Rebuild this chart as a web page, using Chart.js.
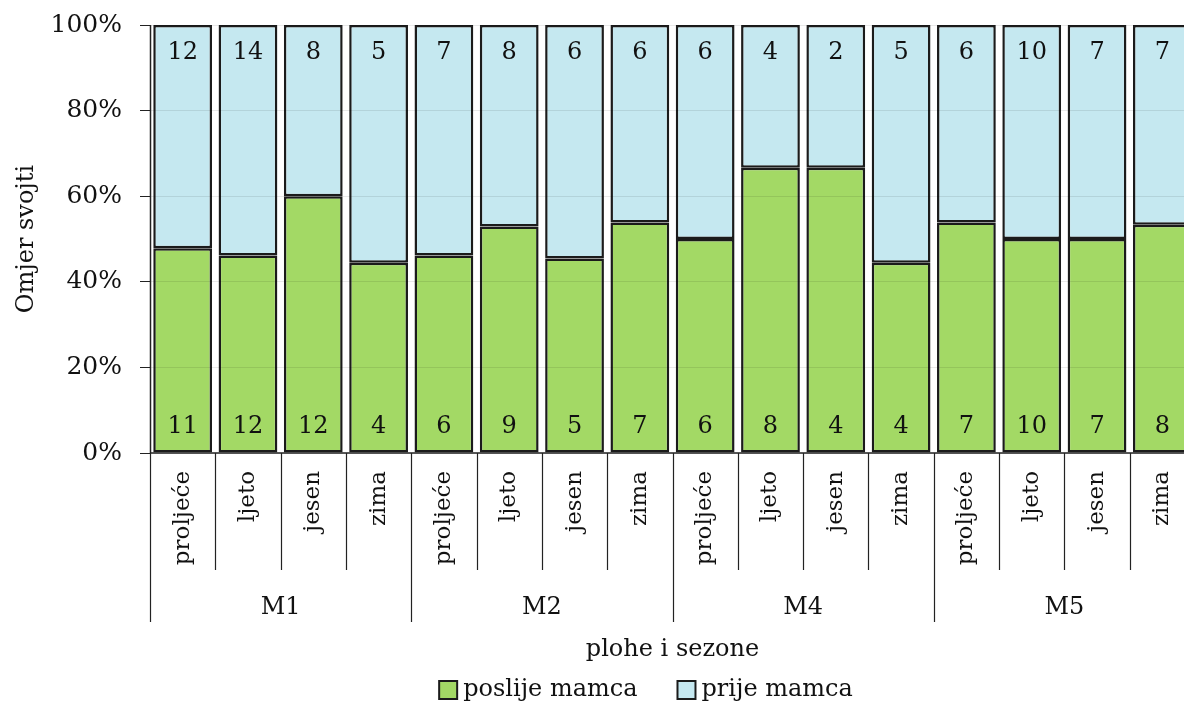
<!DOCTYPE html>
<html>
<head>
<meta charset="utf-8">
<script src="https://cdn.jsdelivr.net/npm/chart.js@4/dist/chart.umd.min.js"></script>
<style>
html,body{margin:0;padding:0;background:#fff;overflow:hidden;width:1184px;height:704px;}
#wrap{position:absolute;left:0;top:0;width:1196px;height:704px;}
</style>
</head>
<body>
<div id="wrap"><canvas id="c" width="1196" height="704"></canvas></div>
<script>
const seasons = ['proljeće','ljeto','jesen','zima','proljeće','ljeto','jesen','zima','proljeće','ljeto','jesen','zima','proljeće','ljeto','jesen','zima'];
const groups = ['M1','M2','M4','M5'];
const poslijeMamca = [11,12,12,4, 6,9,5,7, 6,8,4,4, 7,10,7,8];
const prijeMamca   = [12,14,8,5, 7,8,6,6, 6,4,2,5, 6,10,7,7];
const yTicks = [0,20,40,60,80,100];

const FONT = 'DejaVu Serif';
const GREEN = '#A3D965', BLUE = '#C5E8F0', EDGE = '#1b1b1b';
const totals = poslijeMamca.map((v,i)=>v+prijeMamca[i]);
const pctPoslije = poslijeMamca.map((v,i)=>v/totals[i]*100);
const pctPrije = prijeMamca.map((v,i)=>v/totals[i]*100);

const overlay = {
  id:'overlay',
  afterDatasetsDraw(chart){
    const ctx = chart.ctx;
    const x = chart.scales.x, y = chart.scales.y;
    ctx.save();
    ctx.font = '24px "'+FONT+'"';
    ctx.fillStyle = '#111';
    ctx.textAlign = 'center';
    ctx.textBaseline = 'middle';
    for(let i=0;i<seasons.length;i++){
      const cx = x.getPixelForValue(i);
      ctx.fillText(String(poslijeMamca[i]), cx, y.getPixelForValue(0) - 26);
      ctx.fillText(String(prijeMamca[i]), cx, y.getPixelForValue(100) + 28);
    }
    ctx.restore();
  },
  afterDraw(chart){
    const ctx = chart.ctx;
    const x = chart.scales.x, y = chart.scales.y;
    const base = y.getPixelForValue(0);
    const top = y.getPixelForValue(100);
    const n = seasons.length;
    const w = (x.getPixelForValue(n-1) - x.getPixelForValue(0))/(n-1);
    const left = Math.round(x.getPixelForValue(0) - w/2);
    ctx.save();
    ctx.strokeStyle = '#222';
    ctx.lineWidth = 1.5;
    // y axis line
    ctx.beginPath();
    ctx.moveTo(left + 0.5, top);
    ctx.lineTo(left + 0.5, base);
    ctx.stroke();
    // x axis line
    ctx.beginPath();
    ctx.moveTo(left, base);
    ctx.lineTo(chart.chartArea.right + 5, base);
    ctx.stroke();
    // separators
    ctx.lineWidth = 1.2;
    for(let i=0;i<=n;i++){
      const px = Math.round(x.getPixelForValue(0) - w/2 + i*w) + 0.5;
      const len = (i%4===0) ? 169 : 117;
      ctx.beginPath();
      ctx.moveTo(px, base);
      ctx.lineTo(px, base+len);
      ctx.stroke();
    }
    ctx.font = '24px "'+FONT+'"';
    ctx.fillStyle = '#111';
    ctx.textAlign = 'center';
    ctx.textBaseline = 'middle';
    groups.forEach((g,gi)=>{
      const cx = (x.getPixelForValue(gi*4) + x.getPixelForValue(gi*4+3))/2;
      ctx.fillText(g, cx, base+155);
    });
    // legend
    const items = chart.data.datasets.map(d=>({text:d.label, color:d.backgroundColor}));
    const box = 18, gap = 6, itemGap = 40;
    const widths = items.map(it=>ctx.measureText(it.text).width);
    const total = widths.reduce((a,b)=>a+b,0) + items.length*(box+gap) + itemGap*(items.length-1);
    let lx = 646 - total/2;
    const ly = 690;
    ctx.textAlign = 'left';
    items.forEach((it,k)=>{
      ctx.fillStyle = it.color;
      ctx.fillRect(lx, ly-box/2, box, box);
      ctx.strokeStyle = EDGE;
      ctx.lineWidth = 2;
      ctx.strokeRect(lx, ly-box/2, box, box);
      ctx.fillStyle = '#111';
      ctx.fillText(it.text, lx + box + gap, ly);
      lx += box + gap + widths[k] + itemGap;
    });
    ctx.restore();
  }
};

new Chart(document.getElementById('c'), {
  type:'bar',
  data:{
    labels: seasons,
    datasets:[
      {label:'poslije mamca', data:pctPoslije, backgroundColor:GREEN, borderColor:EDGE, borderWidth:2.5, borderSkipped:false},
      {label:'prije mamca', data:pctPrije, backgroundColor:BLUE, borderColor:EDGE, borderWidth:2.5, borderSkipped:false}
    ]
  },
  options:{
    responsive:false,
    animation:false,
    devicePixelRatio:1,
    layout:{padding:{left:0,right:1,top:25,bottom:40}},
    datasets:{bar:{categoryPercentage:1, barPercentage:0.9}},
    plugins:{
      tooltip:{enabled:false},
      legend:{display:false}
    },
    scales:{
      x:{
        stacked:true,
        grid:{display:false, drawTicks:false},
        border:{display:false},
        ticks:{
          autoSkip:false, minRotation:90, maxRotation:90, padding:18,
          font:{family:FONT,size:23}, color:'#111'
        },
        title:{display:true, text:'plohe i sezone', font:{family:FONT,size:24}, color:'#111', padding:{top:0,bottom:0}},
        afterFit(s){ s.height = 211; s.paddingLeft = 0; s.paddingRight = 0; }
      },
      y:{
        stacked:true,
        min:0, max:100,
        afterBuildTicks(s){ s.ticks = yTicks.map(v=>({value:v})); },
        grid:{color:'rgba(0,0,0,0.09)', tickColor:'#222', tickLength:10, z:1},
        border:{display:false},
        ticks:{
          padding:18,
          font:{family:FONT,size:25}, color:'#111',
          callback:v=>v+'%'
        },
        title:{display:true, text:'Omjer svojti', font:{family:FONT,size:24}, color:'#111', padding:{top:12,bottom:0}},
        afterFit(s){ s.width = 150; s.paddingTop = 0; s.paddingBottom = 0; }
      }
    }
  },
  plugins:[overlay]
});
</script>
</body>
</html>
